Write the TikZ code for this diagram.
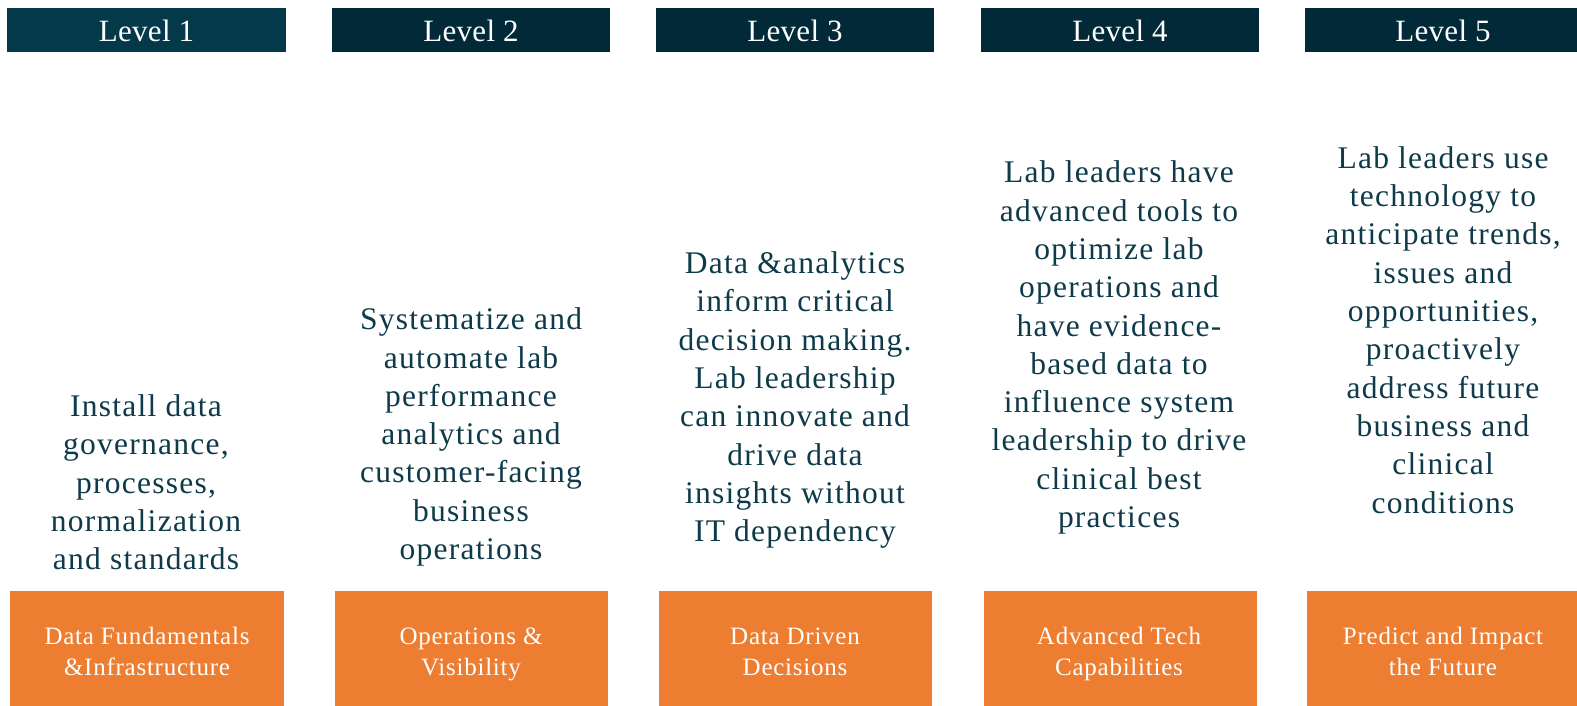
\documentclass[tikz,border=0pt]{standalone}
\usepackage{fontspec}
\setmainfont{Liberation Serif}
\newfontfamily\bodyfont[LetterSpace=4]{Liberation Serif}
\newfontfamily\headfont[LetterSpace=1]{Liberation Serif}
\newfontfamily\tagfont[LetterSpace=3]{Liberation Serif}
\definecolor{headA}{RGB}{4,57,73}
\definecolor{headB}{RGB}{2,41,55}
\definecolor{tagorange}{RGB}{237,125,49}
\definecolor{bodyink}{RGB}{14,58,73}
\tikzset{
  headlabel/.style={text=white, font=\headfont\fontsize{31}{34}\selectfont, inner sep=0pt},
  taglabel/.style={text=white, font=\tagfont\fontsize{25}{31.2}\selectfont, align=center, inner sep=0pt},
  bodytext/.style={text=bodyink, font=\bodyfont\fontsize{31.5}{38.3}\selectfont, align=center, inner sep=0pt}
}
\begin{document}
\begin{tikzpicture}[x=1pt,y=-1pt]
\useasboundingbox (0,0) rectangle (1577,706);
\fill[white] (0,0) rectangle (1577,706);

% level headers
\fill[headA] (7,8) rectangle (286,52);
\fill[headB] (332,8) rectangle (610,52);
\fill[headB] (656,8) rectangle (934,52);
\fill[headB] (981,8) rectangle (1259,52);
\fill[headB] (1305,8) rectangle (1577,52);
\node[headlabel] (h1) at (146.5,31) {Level 1};
\node[headlabel] (h2) at (471,31) {Level 2};
\node[headlabel] (h3) at (795,31) {Level 3};
\node[headlabel] (h4) at (1120,31) {Level 4};
\node[headlabel] (h5) at (1443,31) {Level 5};

% descriptions (struts on first and last lines keep the blocks centred evenly)
\node[bodytext] (d1) at (146,485.5) {\strut Install data\\governance,\\processes,\\normalization\\and standards\strut};
\node[bodytext] (d2) at (471,437) {\strut Systematize and\\automate lab\\performance\\analytics and\\customer-facing\\business\\operations\strut};
\node[bodytext] (d3) at (795,400) {\strut Data \&analytics\\inform critical\\decision making.\\Lab leadership\\can innovate and\\drive data\\insights without\\IT dependency\strut};
\node[bodytext] (d4) at (1119,347.5) {\strut Lab leaders have\\advanced tools to\\optimize lab\\operations and\\have evidence-\\based data to\\influence system\\leadership to drive\\clinical best\\practices\strut};
\node[bodytext] (d5) at (1443,333) {\strut Lab leaders use\\technology to\\anticipate trends,\\issues and\\opportunities,\\proactively\\address future\\business and\\clinical\\conditions\strut};

% stage tags
\fill[tagorange] (10,591) rectangle (284,706);
\fill[tagorange] (335,591) rectangle (608,706);
\fill[tagorange] (659,591) rectangle (932,706);
\fill[tagorange] (984,591) rectangle (1257,706);
\fill[tagorange] (1307,591) rectangle (1577,706);
\node[taglabel] (t1) at (147,653.5) {\strut Data Fundamentals\\\&Infrastructure\strut};
\node[taglabel] (t2) at (471,653.5) {\strut Operations \&\\Visibility\strut};
\node[taglabel] (t3) at (795,653.5) {\strut Data Driven\\Decisions\strut};
\node[taglabel] (t4) at (1119,653.5) {\strut Advanced Tech\\Capabilities\strut};
\node[taglabel] (t5) at (1443,653.5) {\strut Predict and Impact\\the Future\strut};
\end{tikzpicture}
\end{document}
